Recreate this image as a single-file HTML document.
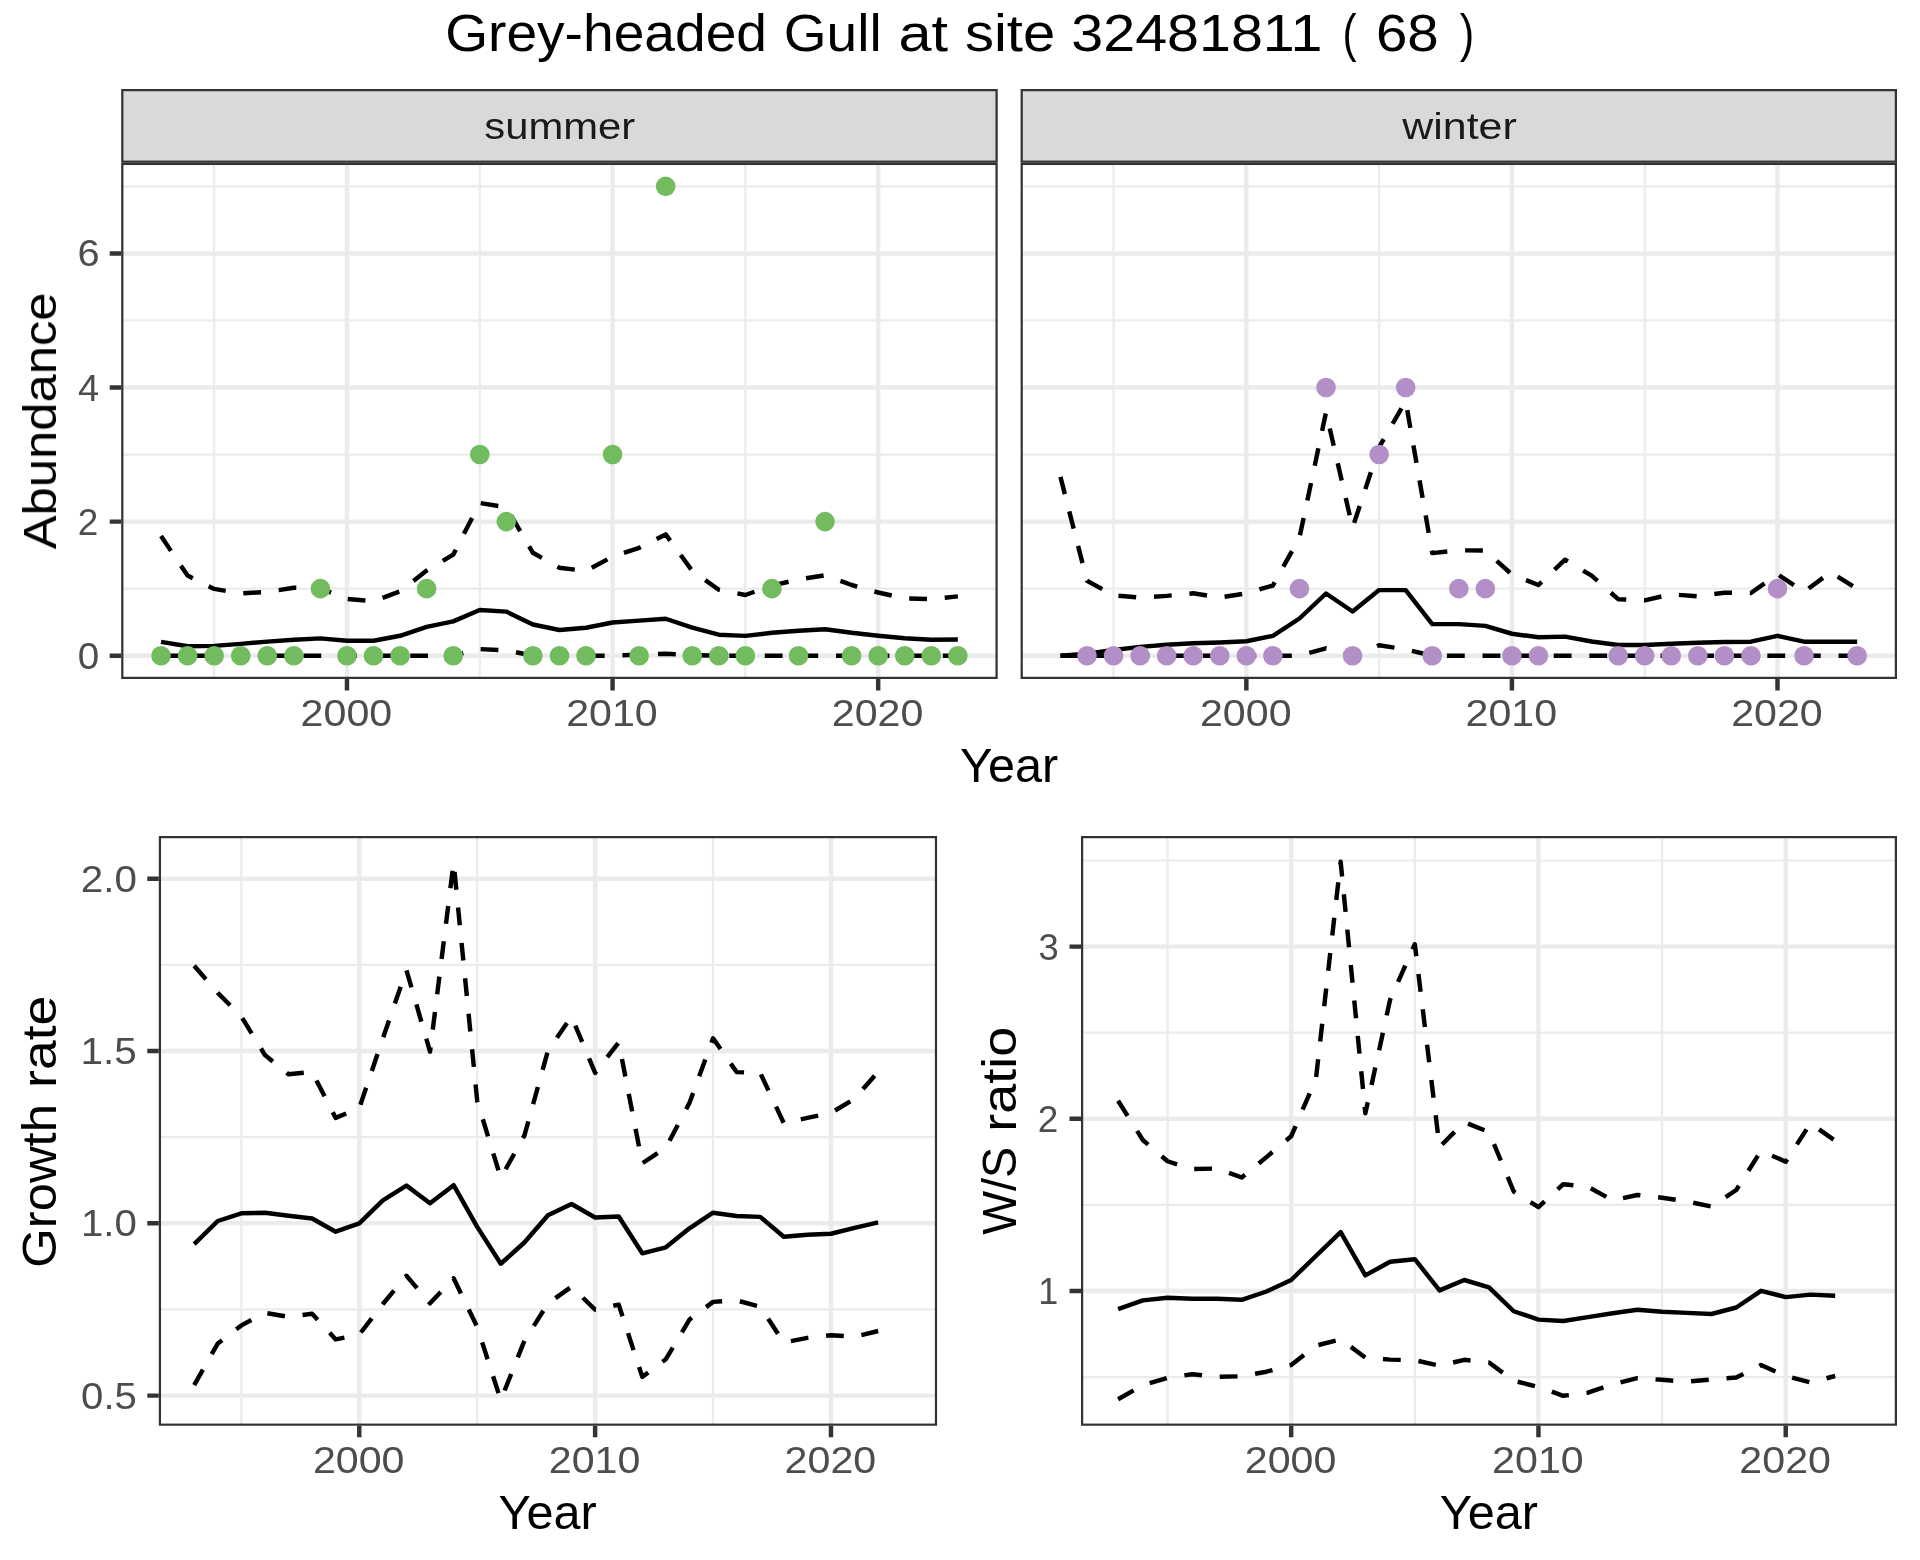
<!DOCTYPE html>
<html><head><meta charset="utf-8"><title>Grey-headed Gull at site 32481811</title>
<style>html,body{margin:0;padding:0;background:#fff}svg{display:block}text{font-family:"Liberation Sans",sans-serif}</style></head><body>
<svg width="1920" height="1560" viewBox="0 0 1920 1560">
<rect width="1920" height="1560" fill="#fff"/>
<clipPath id="c1"><rect x="121.2" y="89" width="876.5" height="73.8"/></clipPath>
<rect clip-path="url(#c1)" x="121.2" y="89" width="876.5" height="73.8" fill="#D9D9D9" stroke="#333333" stroke-width="4.45"/>
<clipPath id="c2"><rect x="1020.6" y="89" width="876.4" height="73.8"/></clipPath>
<rect clip-path="url(#c2)" x="1020.6" y="89" width="876.4" height="73.8" fill="#D9D9D9" stroke="#333333" stroke-width="4.45"/>
<clipPath id="c3"><rect x="121.2" y="162.8" width="876.5" height="516.2"/></clipPath>
<g clip-path="url(#c3)">
<path d="M214.16 162.8V679M479.77 162.8V679M745.37 162.8V679M121.2 588.65H997.7M121.2 454.55H997.7M121.2 320.45H997.7M121.2 186.35H997.7" stroke="#EBEBEB" stroke-width="2.23" fill="none"/>
<path d="M346.97 162.8V679M612.57 162.8V679M878.18 162.8V679M121.2 655.7H997.7M121.2 521.6H997.7M121.2 387.5H997.7M121.2 253.4H997.7" stroke="#EBEBEB" stroke-width="4.45" fill="none"/>
<path d="M161.04 536.1L187.6 575.6L214.16 588.9L240.72 593.4L267.28 591.9L293.84 587.7L320.4 588.4L346.97 598.9L373.53 601.25L400.09 591.25L426.65 570.6L453.21 554.7L479.77 503L506.33 507.3L532.89 552.8L559.45 567.8L586.01 570.9L612.57 556.6L639.13 547.8L665.69 534.4L692.25 570.9L718.81 589.7L745.37 595L771.93 585.6L798.5 579.5L825.06 575.3L851.62 585L878.18 592.5L904.74 598.4L931.3 599.1L957.86 596.4" stroke="#000" stroke-width="4.45" fill="none" stroke-linejoin="round" stroke-dasharray="17.8 17.8"/>
<path d="M161.04 655.7L187.6 655.7L214.16 655.7L240.72 655.7L267.28 655.7L293.84 655.7L320.4 655.7L346.97 655.7L373.53 655.7L400.09 655.7L426.65 655.7L453.21 655.7L479.77 649.1L506.33 650.3L532.89 655.7L559.45 655.7L586.01 655.7L612.57 655.7L639.13 654.6L665.69 653.75L692.25 655.2L718.81 655.7L745.37 655.7L771.93 655.7L798.5 655.7L825.06 655.7L851.62 655.7L878.18 655.7L904.74 655.7L931.3 655.7L957.86 655.7" stroke="#000" stroke-width="4.45" fill="none" stroke-linejoin="round" stroke-dasharray="17.8 17.8"/>
<path d="M161.04 641.9L187.6 646.25L214.16 645.9L240.72 643.9L267.28 641.6L293.84 639.7L320.4 638.4L346.97 640.8L373.53 640.8L400.09 635.8L426.65 626.9L453.21 621.4L479.77 610L506.33 611.6L532.89 624.5L559.45 630L586.01 627.7L612.57 622.5L639.13 620.6L665.69 618.75L692.25 627.7L718.81 634.7L745.37 635.9L771.93 632.8L798.5 630.8L825.06 629.2L851.62 632.8L878.18 635.8L904.74 638.3L931.3 639.7L957.86 639.5" stroke="#000" stroke-width="4.45" fill="none" stroke-linejoin="round"/>
<g fill="#72BC5F">
<circle cx="161.04" cy="655.7" r="9.8"/>
<circle cx="187.6" cy="655.7" r="9.8"/>
<circle cx="214.16" cy="655.7" r="9.8"/>
<circle cx="240.72" cy="655.7" r="9.8"/>
<circle cx="267.28" cy="655.7" r="9.8"/>
<circle cx="293.84" cy="655.7" r="9.8"/>
<circle cx="346.97" cy="655.7" r="9.8"/>
<circle cx="373.53" cy="655.7" r="9.8"/>
<circle cx="400.09" cy="655.7" r="9.8"/>
<circle cx="453.21" cy="655.7" r="9.8"/>
<circle cx="532.89" cy="655.7" r="9.8"/>
<circle cx="559.45" cy="655.7" r="9.8"/>
<circle cx="586.01" cy="655.7" r="9.8"/>
<circle cx="639.13" cy="655.7" r="9.8"/>
<circle cx="692.25" cy="655.7" r="9.8"/>
<circle cx="718.81" cy="655.7" r="9.8"/>
<circle cx="745.37" cy="655.7" r="9.8"/>
<circle cx="798.5" cy="655.7" r="9.8"/>
<circle cx="851.62" cy="655.7" r="9.8"/>
<circle cx="878.18" cy="655.7" r="9.8"/>
<circle cx="904.74" cy="655.7" r="9.8"/>
<circle cx="931.3" cy="655.7" r="9.8"/>
<circle cx="957.86" cy="655.7" r="9.8"/>
<circle cx="320.4" cy="588.65" r="9.8"/>
<circle cx="426.65" cy="588.65" r="9.8"/>
<circle cx="771.93" cy="588.65" r="9.8"/>
<circle cx="506.33" cy="521.6" r="9.8"/>
<circle cx="825.06" cy="521.6" r="9.8"/>
<circle cx="479.77" cy="454.55" r="9.8"/>
<circle cx="612.57" cy="454.55" r="9.8"/>
<circle cx="665.69" cy="186.35" r="9.8"/>
</g>
<rect x="121.2" y="162.8" width="876.5" height="516.2" fill="none" stroke="#333333" stroke-width="4.45"/>
</g>
<clipPath id="c4"><rect x="1020.6" y="162.8" width="876.4" height="516.2"/></clipPath>
<g clip-path="url(#c4)">
<path d="M1113.55 162.8V679M1379.13 162.8V679M1644.7 162.8V679M1020.6 588.65H1897M1020.6 454.55H1897M1020.6 320.45H1897M1020.6 186.35H1897" stroke="#EBEBEB" stroke-width="2.23" fill="none"/>
<path d="M1246.34 162.8V679M1511.92 162.8V679M1777.49 162.8V679M1020.6 655.7H1897M1020.6 521.6H1897M1020.6 387.5H1897M1020.6 253.4H1897" stroke="#EBEBEB" stroke-width="4.45" fill="none"/>
<path d="M1060.44 476.9L1086.99 580.8L1113.55 595.3L1140.11 597.5L1166.67 595.9L1193.22 593.3L1219.78 597.5L1246.34 593.3L1272.9 585.5L1299.45 537.7L1326.01 412.3L1352.57 527.7L1379.13 447.2L1405.68 401L1432.24 553.1L1458.8 550.3L1485.36 550.6L1511.92 574.5L1538.47 585L1565.03 559.7L1591.59 575.7L1618.15 599.2L1644.7 600.3L1671.26 594.3L1697.82 596.3L1724.38 592.7L1750.93 593L1777.49 574.2L1804.05 591.8L1830.61 572.3L1857.16 588.7" stroke="#000" stroke-width="4.45" fill="none" stroke-linejoin="round" stroke-dasharray="17.8 17.8"/>
<path d="M1060.44 655.7L1086.99 655.7L1113.55 655.7L1140.11 655.7L1166.67 655.7L1193.22 655.7L1219.78 655.7L1246.34 655.7L1272.9 655.7L1299.45 655.7L1326.01 648.3L1352.57 655.7L1379.13 645.2L1405.68 649.4L1432.24 655.7L1458.8 655.7L1485.36 655.7L1511.92 655.7L1538.47 655.7L1565.03 655.7L1591.59 655.7L1618.15 655.7L1644.7 655.7L1671.26 655.7L1697.82 655.7L1724.38 655.7L1750.93 655.7L1777.49 655.7L1804.05 655.7L1830.61 655.7L1857.16 655.7" stroke="#000" stroke-width="4.45" fill="none" stroke-linejoin="round" stroke-dasharray="17.8 17.8"/>
<path d="M1060.44 655.6L1086.99 653.7L1113.55 650L1140.11 646.9L1166.67 644.8L1193.22 643.3L1219.78 642.5L1246.34 641.25L1272.9 635.9L1299.45 618.5L1326.01 593.5L1352.57 611.5L1379.13 590.1L1405.68 590.1L1432.24 624.1L1458.8 624.1L1485.36 625.9L1511.92 633.75L1538.47 637.3L1565.03 636.6L1591.59 641.5L1618.15 645L1644.7 645L1671.26 643.7L1697.82 642.8L1724.38 642L1750.93 641.7L1777.49 635.8L1804.05 641.7L1830.61 641.7L1857.16 641.7" stroke="#000" stroke-width="4.45" fill="none" stroke-linejoin="round"/>
<g fill="#B38FC7">
<circle cx="1086.99" cy="655.7" r="9.8"/>
<circle cx="1113.55" cy="655.7" r="9.8"/>
<circle cx="1140.11" cy="655.7" r="9.8"/>
<circle cx="1166.67" cy="655.7" r="9.8"/>
<circle cx="1193.22" cy="655.7" r="9.8"/>
<circle cx="1219.78" cy="655.7" r="9.8"/>
<circle cx="1246.34" cy="655.7" r="9.8"/>
<circle cx="1272.9" cy="655.7" r="9.8"/>
<circle cx="1352.57" cy="655.7" r="9.8"/>
<circle cx="1432.24" cy="655.7" r="9.8"/>
<circle cx="1511.92" cy="655.7" r="9.8"/>
<circle cx="1538.47" cy="655.7" r="9.8"/>
<circle cx="1618.15" cy="655.7" r="9.8"/>
<circle cx="1644.7" cy="655.7" r="9.8"/>
<circle cx="1671.26" cy="655.7" r="9.8"/>
<circle cx="1697.82" cy="655.7" r="9.8"/>
<circle cx="1724.38" cy="655.7" r="9.8"/>
<circle cx="1750.93" cy="655.7" r="9.8"/>
<circle cx="1804.05" cy="655.7" r="9.8"/>
<circle cx="1857.16" cy="655.7" r="9.8"/>
<circle cx="1299.45" cy="588.65" r="9.8"/>
<circle cx="1458.8" cy="588.65" r="9.8"/>
<circle cx="1485.36" cy="588.65" r="9.8"/>
<circle cx="1777.49" cy="588.65" r="9.8"/>
<circle cx="1379.13" cy="454.55" r="9.8"/>
<circle cx="1326.01" cy="387.5" r="9.8"/>
<circle cx="1405.68" cy="387.5" r="9.8"/>
</g>
<rect x="1020.6" y="162.8" width="876.4" height="516.2" fill="none" stroke="#333333" stroke-width="4.45"/>
</g>
<clipPath id="c5"><rect x="158.8" y="836" width="778.3" height="589.8"/></clipPath>
<g clip-path="url(#c5)">
<path d="M241.35 836V1425.8M477.2 836V1425.8M713.04 836V1425.8M158.8 1309.45H937.1M158.8 1137.15H937.1M158.8 964.85H937.1" stroke="#EBEBEB" stroke-width="2.23" fill="none"/>
<path d="M359.27 836V1425.8M595.12 836V1425.8M830.97 836V1425.8M158.8 1395.6H937.1M158.8 1223.3H937.1M158.8 1051H937.1M158.8 878.7H937.1" stroke="#EBEBEB" stroke-width="4.45" fill="none"/>
<path d="M194.18 965.8L217.76 992.9L241.35 1016.5L264.93 1055L288.52 1074.2L312.1 1072.1L335.69 1117.9L359.27 1108.1L382.86 1038.3L406.44 970.1L430.03 1051.6L453.61 862.5L477.2 1100.8L500.78 1177.9L524.37 1135.6L547.95 1050.8L571.53 1016.5L595.12 1072.9L618.7 1042.4L642.29 1163.3L665.87 1147.7L689.46 1102.9L713.04 1038.3L736.63 1072.1L760.21 1072.9L783.8 1123.1L807.38 1117.9L830.97 1112.9L854.55 1098.75L878.14 1071.7" stroke="#000" stroke-width="4.45" fill="none" stroke-linejoin="round" stroke-dasharray="17.8 17.8"/>
<path d="M194.18 1385.2L217.76 1343.5L241.35 1325.4L264.93 1312.9L288.52 1316.9L312.1 1313.75L335.69 1339.4L359.27 1334.6L382.86 1304L406.44 1275.8L430.03 1303.3L453.61 1278.3L477.2 1326.9L500.78 1400.2L524.37 1340.8L547.95 1303.5L571.53 1286.7L595.12 1309.6L618.7 1304.6L642.29 1376.9L665.87 1359.2L689.46 1319.6L713.04 1301.9L736.63 1300.4L760.21 1306.7L783.8 1342.5L807.38 1337.9L830.97 1335.2L854.55 1336.7L878.14 1331" stroke="#000" stroke-width="4.45" fill="none" stroke-linejoin="round" stroke-dasharray="17.8 17.8"/>
<path d="M194.18 1244.2L217.76 1221L241.35 1213.3L264.93 1212.7L288.52 1215.8L312.1 1218.5L335.69 1231.7L359.27 1223.3L382.86 1200.4L406.44 1185.6L430.03 1203.3L453.61 1185.2L477.2 1226.9L500.78 1263.75L524.37 1242.5L547.95 1215.2L571.53 1204L595.12 1217.5L618.7 1216.5L642.29 1253.3L665.87 1247.3L689.46 1228.3L713.04 1212.7L736.63 1216L760.21 1216.9L783.8 1236.7L807.38 1234.8L830.97 1233.75L854.55 1227.9L878.14 1222.3" stroke="#000" stroke-width="4.45" fill="none" stroke-linejoin="round"/>
<rect x="158.8" y="836" width="778.3" height="589.8" fill="none" stroke="#333333" stroke-width="4.45"/>
</g>
<clipPath id="c6"><rect x="1081" y="836" width="816" height="589.8"/></clipPath>
<g clip-path="url(#c6)">
<path d="M1167.55 836V1425.8M1414.82 836V1425.8M1662.09 836V1425.8M1081 1377.1H1897M1081 1204.9H1897M1081 1032.7H1897M1081 860.5H1897" stroke="#EBEBEB" stroke-width="2.23" fill="none"/>
<path d="M1291.18 836V1425.8M1538.45 836V1425.8M1785.73 836V1425.8M1081 1291H1897M1081 1118.8H1897M1081 946.6H1897" stroke="#EBEBEB" stroke-width="4.45" fill="none"/>
<path d="M1118.09 1100.8L1142.82 1140L1167.55 1161.25L1192.27 1169L1217 1168.5L1241.73 1177.5L1266.45 1157.1L1291.18 1136.25L1315.91 1079L1340.64 861.7L1365.36 1113.3L1390.09 999.8L1414.82 944.2L1439.55 1147.1L1464.27 1122.1L1489 1132.1L1513.73 1191.5L1538.45 1207.1L1563.18 1184.2L1587.91 1186.7L1612.64 1200.4L1637.36 1195L1662.09 1197.7L1686.82 1201.5L1711.55 1206.5L1736.27 1190L1761 1150.8L1785.73 1161.7L1810.45 1123.3L1835.18 1140.8" stroke="#000" stroke-width="4.45" fill="none" stroke-linejoin="round" stroke-dasharray="17.8 17.8"/>
<path d="M1118.09 1399.2L1142.82 1385.2L1167.55 1377.9L1192.27 1374.2L1217 1376.9L1241.73 1376.25L1266.45 1371.7L1291.18 1365L1315.91 1345.6L1340.64 1339.4L1365.36 1357.5L1390.09 1359.6L1414.82 1360.2L1439.55 1365.8L1464.27 1359.8L1489 1362.5L1513.73 1380.8L1538.45 1386.9L1563.18 1395.8L1587.91 1392.7L1612.64 1384.4L1637.36 1378.1L1662.09 1379.8L1686.82 1381.7L1711.55 1379.4L1736.27 1377.5L1761 1365L1785.73 1376L1810.45 1382.5L1835.18 1376" stroke="#000" stroke-width="4.45" fill="none" stroke-linejoin="round" stroke-dasharray="17.8 17.8"/>
<path d="M1118.09 1309.2L1142.82 1300.4L1167.55 1297.7L1192.27 1298.75L1217 1298.75L1241.73 1299.8L1266.45 1291.5L1291.18 1280L1315.91 1256L1340.64 1232.1L1365.36 1275.4L1390.09 1261.7L1414.82 1259.2L1439.55 1290.4L1464.27 1280L1489 1287.3L1513.73 1311.25L1538.45 1319.6L1563.18 1321L1587.91 1317.1L1612.64 1313.3L1637.36 1309.8L1662.09 1311.7L1686.82 1312.9L1711.55 1314L1736.27 1307.5L1761 1290.8L1785.73 1297.1L1810.45 1294.6L1835.18 1295.8" stroke="#000" stroke-width="4.45" fill="none" stroke-linejoin="round"/>
<rect x="1081" y="836" width="816" height="589.8" fill="none" stroke="#333333" stroke-width="4.45"/>
</g>
<path d="M346.97 679v11.5M612.57 679v11.5M878.18 679v11.5" stroke="#333333" stroke-width="4.45" fill="none"/>
<path d="M1246.34 679v11.5M1511.92 679v11.5M1777.49 679v11.5" stroke="#333333" stroke-width="4.45" fill="none"/>
<path d="M359.27 1425.8v11.5M595.12 1425.8v11.5M830.97 1425.8v11.5" stroke="#333333" stroke-width="4.45" fill="none"/>
<path d="M1291.18 1425.8v11.5M1538.45 1425.8v11.5M1785.73 1425.8v11.5" stroke="#333333" stroke-width="4.45" fill="none"/>
<path d="M121.2 655.7h-11.5M121.2 521.6h-11.5M121.2 387.5h-11.5M121.2 253.4h-11.5" stroke="#333333" stroke-width="4.45" fill="none"/>
<path d="M158.8 1395.6h-11.5M158.8 1223.3h-11.5M158.8 1051h-11.5M158.8 878.7h-11.5" stroke="#333333" stroke-width="4.45" fill="none"/>
<path d="M1081 1291h-11.5M1081 1118.8h-11.5M1081 946.6h-11.5" stroke="#333333" stroke-width="4.45" fill="none"/>
<g style="filter:grayscale(1)">
<text transform="translate(300.61,725.8) scale(1.1127,1)" font-size="37" fill="#4D4D4D">2000</text>
<text transform="translate(566.21,725.8) scale(1.1127,1)" font-size="37" fill="#4D4D4D">2010</text>
<text transform="translate(831.82,725.8) scale(1.1127,1)" font-size="37" fill="#4D4D4D">2020</text>
<text transform="translate(1199.98,725.8) scale(1.1127,1)" font-size="37" fill="#4D4D4D">2000</text>
<text transform="translate(1465.56,725.8) scale(1.1127,1)" font-size="37" fill="#4D4D4D">2010</text>
<text transform="translate(1731.13,725.8) scale(1.1127,1)" font-size="37" fill="#4D4D4D">2020</text>
<text transform="translate(312.91,1472.6) scale(1.1127,1)" font-size="37" fill="#4D4D4D">2000</text>
<text transform="translate(548.76,1472.6) scale(1.1127,1)" font-size="37" fill="#4D4D4D">2010</text>
<text transform="translate(784.61,1472.6) scale(1.1127,1)" font-size="37" fill="#4D4D4D">2020</text>
<text transform="translate(1244.82,1472.6) scale(1.1127,1)" font-size="37" fill="#4D4D4D">2000</text>
<text transform="translate(1492.1,1472.6) scale(1.1127,1)" font-size="37" fill="#4D4D4D">2010</text>
<text transform="translate(1739.37,1472.6) scale(1.1127,1)" font-size="37" fill="#4D4D4D">2020</text>
<text transform="translate(77.86,668.7) scale(1.0413,1)" font-size="37" fill="#4D4D4D">0</text>
<text transform="translate(77.85,534.6) scale(0.9979,1)" font-size="37" fill="#4D4D4D">2</text>
<text transform="translate(77.95,400.5) scale(1.0124,1)" font-size="37.54" fill="#4D4D4D">4</text>
<text transform="translate(77.41,266.4) scale(1.0752,1)" font-size="37" fill="#4D4D4D">6</text>
<text transform="translate(81.09,1408.6) scale(1.0852,1)" font-size="37" fill="#4D4D4D">0.5</text>
<text transform="translate(80.98,1236.3) scale(1.0874,1)" font-size="37" fill="#4D4D4D">1.0</text>
<text transform="translate(80.56,1064) scale(1.0803,1)" font-size="37.54" fill="#4D4D4D">1.5</text>
<text transform="translate(80.78,891.7) scale(1.0915,1)" font-size="37" fill="#4D4D4D">2.0</text>
<text transform="translate(1038.3,1304) scale(0.9603,1)" font-size="37.54" fill="#4D4D4D">1</text>
<text transform="translate(1037.65,1131.8) scale(0.9979,1)" font-size="37" fill="#4D4D4D">2</text>
<text transform="translate(1038.44,959.6) scale(0.9833,1)" font-size="37" fill="#4D4D4D">3</text>
<text transform="translate(484.25,138.6) scale(1.1285,1)" font-size="37.04" fill="#1A1A1A">summer</text>
<text transform="translate(1402.3,138.6) scale(1.1521,1)" font-size="37.24" fill="#1A1A1A">winter</text>
<text transform="translate(445.14,50.9) scale(1.0523,1)" font-size="52.41" fill="#000">Grey-headed</text>
<text transform="translate(783.75,50.9) scale(1.0505,1)" font-size="52.41" fill="#000">Gull</text>
<text transform="translate(898.52,50.9) scale(1.1350,1)" font-size="52.41" fill="#000">at</text>
<text transform="translate(964.96,50.9) scale(1.1061,1)" font-size="52.41" fill="#000">site</text>
<text transform="translate(1071.3,50.9) scale(1.0953,1)" font-size="52.41" fill="#000">32481811</text>
<text transform="translate(1342.46,50.9) scale(0.8064,1)" font-size="52.41" fill="#000">(</text>
<text transform="translate(1375.88,50.9) scale(1.0774,1)" font-size="52.41" fill="#000">68</text>
<text transform="translate(1459.77,50.9) scale(0.8292,1)" font-size="52.41" fill="#000">)</text>
<text transform="translate(960.03,781.8) scale(1.0226,1)" font-size="47.54" fill="#000">Year</text>
<text transform="translate(498.59,1528.7) scale(1.0190,1)" font-size="47.68" fill="#000">Year</text>
<text transform="translate(1439.69,1528.7) scale(1.0190,1)" font-size="47.68" fill="#000">Year</text>
<text transform="translate(56,549.25) rotate(-90) scale(1.0792,1)" font-size="47.03" fill="#000">Abundance</text>
<text transform="translate(56.2,1267.74) rotate(-90) scale(1.0615,1)" font-size="47.86" fill="#000">Growth</text>
<text transform="translate(56.2,1087.88) rotate(-90) scale(1.1191,1)" font-size="47.86" fill="#000">rate</text>
<text transform="translate(1016.2,1234.83) rotate(-90) scale(0.9724,1)" font-size="47.86" fill="#000">W/S</text>
<text transform="translate(1016.2,1131.71) rotate(-90) scale(1.1287,1)" font-size="47.86" fill="#000">ratio</text>
</g>
</svg></body></html>
